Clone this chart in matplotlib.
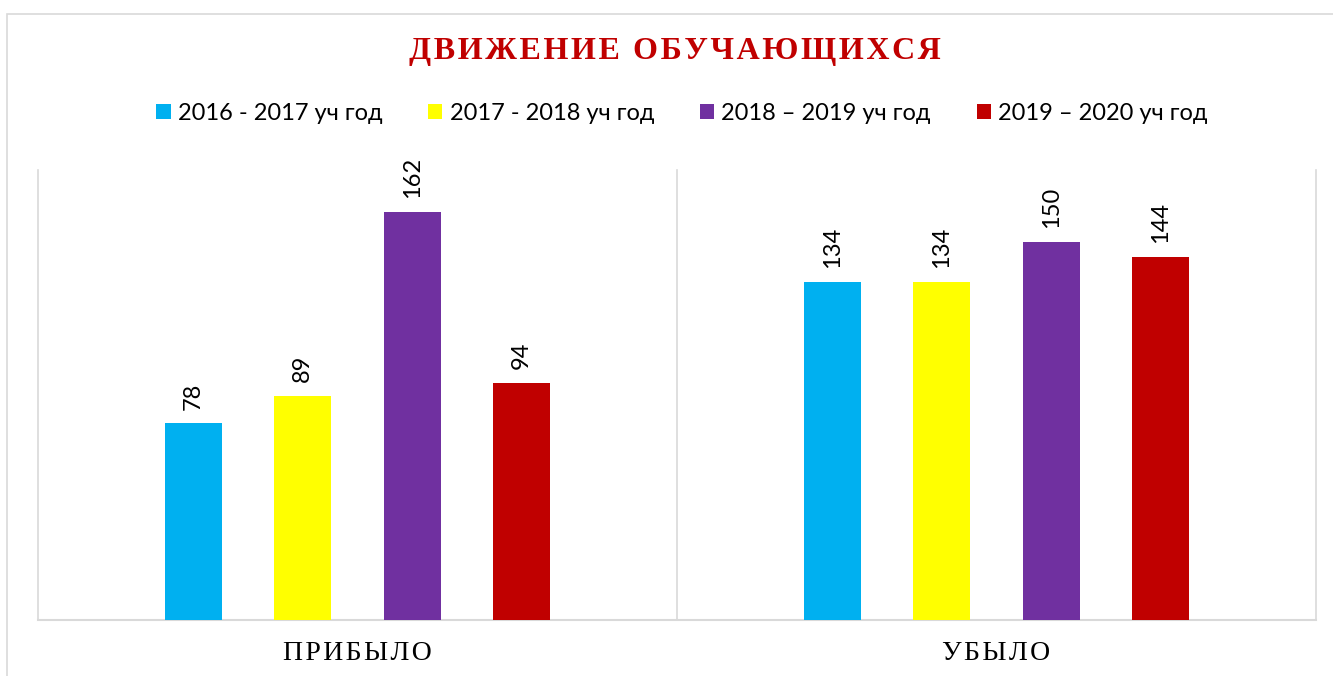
import numpy as np
import matplotlib.pyplot as plt
from matplotlib.patches import Rectangle

# Chart data
categories = ["ПРИБЫЛО", "УБЫЛО"]
series_names = ["2016 - 2017 уч год", "2017 - 2018 уч год",
                "2018 – 2019 уч год", "2019 – 2020 уч год"]
values_2016 = [78, 134]
values_2017 = [89, 134]
values_2018 = [162, 150]
values_2019 = [94, 144]
series_values = [values_2016, values_2017, values_2018, values_2019]
colors = ["#00B0F0", "#FFFF00", "#7030A0", "#C00000"]

SANS = ["Lato", "DejaVu Sans"]
SERIF = ["Liberation Serif", "DejaVu Serif"]
GRID = "#D9D9D9"


def spaced(text, sep="\u200a"):
    """Spread letters apart a little, like the Excel title."""
    return sep.join(text)


fig = plt.figure(figsize=(13.33, 6.76), dpi=100)
fig.patches.append(Rectangle((7 / 1333, -0.1), 1.2, 1.1 - 14 / 676,
                             transform=fig.transFigure, fill=False,
                             edgecolor=GRID, linewidth=1.2))

ax = fig.add_axes([38 / 1333, 56 / 676, 1278 / 1333, 450 / 676])

x = np.arange(len(categories))
bar_w = 0.089
step = 0.171
bars = []
for i, (name, vals, col) in enumerate(zip(series_names, series_values, colors)):
    pos = x + (i - 1.5) * step
    b = ax.bar(pos, vals, width=bar_w, color=col, label=name, zorder=3)
    bars.append(b)
    for xp, v in zip(pos, vals):
        ax.annotate(str(v), (xp, v), xytext=(0, 10), textcoords="offset points",
                    rotation=90, ha="center", va="bottom",
                    fontsize=17, family=SANS, color="#000000")

ax.set_xlim(-0.5, len(categories) - 0.5)
ax.set_ylim(0, 178.6)
ax.set_yticks([])
ax.set_xticks(x)
ax.set_xticklabels([spaced(c) for c in categories], family=SERIF, fontsize=20)
ax.tick_params(axis="x", length=0, pad=15)

for s in ["top", "left", "right"]:
    ax.spines[s].set_visible(False)
ax.spines["bottom"].set_color(GRID)
ax.spines["bottom"].set_linewidth(1.5)

# Vertical separators between categories
for b in np.arange(-0.5, len(categories), 1.0):
    ax.axvline(b, color=GRID, linewidth=1.2, zorder=1, clip_on=False)

fig.text(675 / 1333, 1 - 52 / 676, spaced("ДВИЖЕНИЕ ОБУЧАЮЩИХСЯ"), ha="center",
         va="center", fontsize=23, fontweight="bold", family=SERIF,
         color="#C00000")

leg = fig.legend(handles=bars, labels=series_names, loc="center",
                 bbox_to_anchor=(682 / 1333, 1 - 113 / 676), ncol=4,
                 frameon=False, prop={"family": SANS, "size": 17},
                 handlelength=0.6, handleheight=0.6, handletextpad=0.3,
                 columnspacing=1.95)

fig.savefig("out.png", dpi=100, facecolor="white")
